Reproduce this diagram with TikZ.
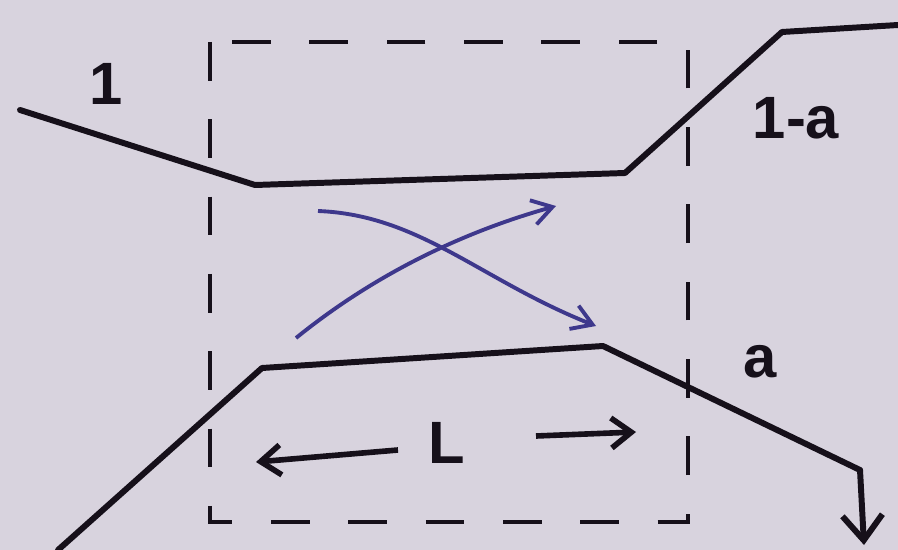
\documentclass[tikz,border=0pt]{standalone}
\usepackage{fontspec}
\setsansfont{Liberation Sans}
\usetikzlibrary{positioning,arrows.meta}
\definecolor{paper}{RGB}{216,211,222}
\definecolor{ink}{RGB}{22,16,26}
\definecolor{bluepen}{RGB}{62,56,140}
\tikzset{
  guide/.style={ink, line width=3.4pt, line join=round, line cap=round},
  boxline/.style={ink, line width=2.8pt, dash pattern=on 22pt off 22pt},
  crossarrow/.style={bluepen, line width=2.2pt, -{Straight Barb[length=4mm, width=5mm]}},
  lenarrow/.style={ink, line width=3.2pt, -{Straight Barb[length=4mm, width=6mm]}},
  handlabel/.style={ink, font=\sffamily\bfseries\fontsize{34}{38}\selectfont, inner sep=1pt}
}
\begin{document}
\begin{tikzpicture}[x=0.02cm, y=-0.02cm]
  \fill[paper] (0,0) rectangle (898,550);
  \useasboundingbox (0,0) rectangle (898,550);
  % upper guide
  \coordinate (u1) at (20,110);
  \coordinate (u2) at (255,185);
  \coordinate (u3) at (625,173);
  \coordinate (u4) at (782,32);
  \coordinate (u5) at (898,25);
  \draw[guide] (u1) -- (u2) -- (u3) -- (u4) -- (u5);
  % lower guide
  \coordinate (d1) at (58,550);
  \coordinate (d2) at (262,368);
  \coordinate (d3) at (603,346);
  \coordinate (d4) at (860,470);
  \coordinate (d5) at (864,545);
  \draw[guide] (d1) -- (d2) -- (d3) -- (d4);
  \draw[guide, -{Straight Barb[length=5mm, width=8mm]}] (d4) -- (d5);
  % coupling box
  \coordinate (boxtl) at (210,42);
  \coordinate (boxbr) at (688,522);
  \draw[boxline] (boxtl) rectangle (boxbr);
  % exchange between the guides
  \coordinate (s1) at (296,338);
  \coordinate (e1) at (556,206);
  \coordinate (s2) at (318,211);
  \coordinate (e2) at (596,326);
  \draw[crossarrow] (s1) .. controls (380,270) and (470,230) .. (e1);
  \draw[crossarrow] (s2) .. controls (420,215) and (480,280) .. (e2);
  % labels
  \node[handlabel] (in) at (106,84) {1};
  \node[handlabel] (out1) at (796,118) {1-a};
  \node[handlabel] (out2) at (760,362) {a};
  \node[handlabel] (len) at (447,443) {L};
  \coordinate (lenla) at (398,450);
  \coordinate (lenl) at (256,462);
  \coordinate (lenra) at (536,436);
  \coordinate (lenr) at (636,432);
  \draw[lenarrow] (lenla) -- (lenl);
  \draw[lenarrow] (lenra) -- (lenr);
\end{tikzpicture}
\end{document}
